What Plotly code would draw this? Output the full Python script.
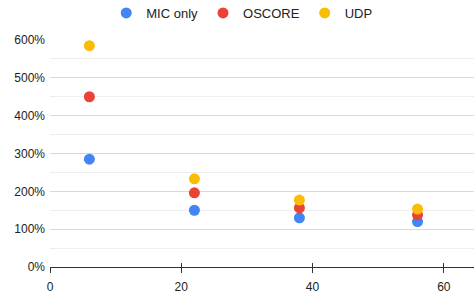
import plotly.graph_objects as go

x_vals = [6, 22, 38, 56]
mic_only = [285, 150, 130, 120]
oscore = [450, 196, 156, 138]
udp = [585, 233, 177, 153]
series_names = ["MIC only", "OSCORE", "UDP"]
colors = ["#4285F4", "#EA4335", "#FBBC04"]
y_ticks = [0, 100, 200, 300, 400, 500, 600]
y_tick_labels = ["0%", "100%", "200%", "300%", "400%", "500%", "600%"]
x_ticks = [0, 20, 40, 60]

fig = go.Figure()
for name, vals, c in zip(series_names, [mic_only, oscore, udp], colors):
    fig.add_trace(go.Scatter(x=x_vals, y=vals, mode="markers", name=name,
                             marker=dict(color=c, size=11, line=dict(width=0))))

fig.add_trace(go.Scatter(x=[0], y=[0], xaxis="x2", mode="markers",
                         marker=dict(opacity=0), showlegend=False, hoverinfo="skip"))

FAM = "Arial"
fig.update_layout(
    width=474, height=301,
    margin=dict(l=50, r=0, t=40, b=34, autoexpand=False),
    paper_bgcolor="white", plot_bgcolor="white",
    font=dict(size=12, family=FAM, color="#222222"),
    showlegend=True,
    legend=dict(orientation="h", xref="container", x=0.51, xanchor="center",
                yref="container", y=0.957, yanchor="middle",
                font=dict(size=13, family=FAM, color="#222222"), itemwidth=30),
    xaxis=dict(range=[0, 64.6], tickvals=x_ticks, showgrid=False, zeroline=False,
               showline=True, linecolor="#333333", linewidth=1,
               ticks="outside", ticklen=5, tickcolor="#333333", automargin=False,
               ticklabelstandoff=4,
               tickfont=dict(size=12, family=FAM, color="#222222")),
    xaxis2=dict(range=[0, 64.6], tickvals=x_ticks, overlaying="x", side="bottom",
                showgrid=False, zeroline=False, showline=False, showticklabels=False,
                ticks="inside", ticklen=4, tickcolor="#333333", automargin=False),
    yaxis=dict(range=[0, 600], tickvals=y_ticks, ticktext=y_tick_labels, showgrid=True,
               gridcolor="#d9d9d9", gridwidth=1, zeroline=False, showline=False,
               ticks="", automargin=False, ticklabelstandoff=4,
               tickfont=dict(size=12, family=FAM, color="#222222"),
               minor=dict(dtick=50, tick0=0, showgrid=True, gridcolor="#eeeeee", gridwidth=1)),
)
fig.write_html("out.html", config={"displayModeBar": False},
               post_script="document.body.style.margin='0';")
